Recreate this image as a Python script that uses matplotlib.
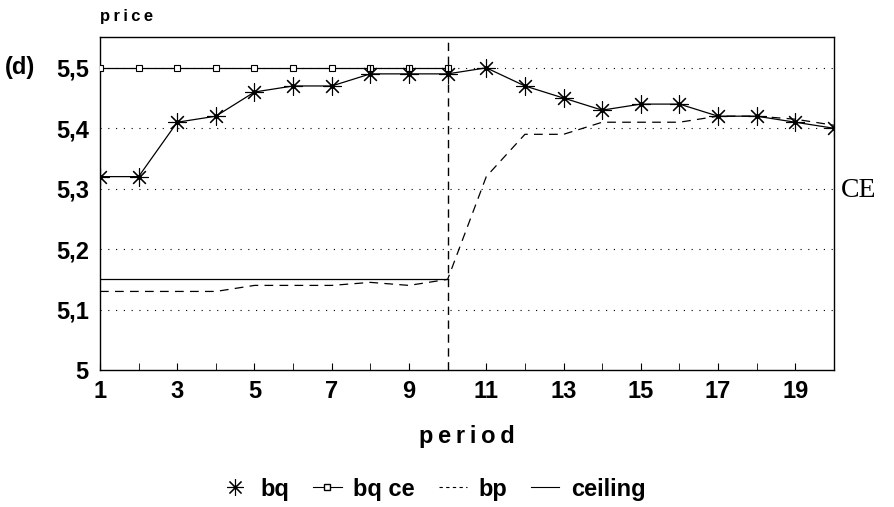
import matplotlib
matplotlib.use("Agg")
import matplotlib.pyplot as plt
from matplotlib.lines import Line2D
from matplotlib.ticker import FuncFormatter

periods = list(range(1, 21))
bq = [5.32, 5.32, 5.41, 5.42, 5.46, 5.47, 5.47, 5.49, 5.49, 5.49,
      5.50, 5.47, 5.45, 5.43, 5.44, 5.44, 5.42, 5.42, 5.41, 5.40]
bq_ce = [5.50] * 10
bp = [5.13, 5.13, 5.13, 5.13, 5.14, 5.14, 5.14, 5.145, 5.14, 5.15,
      5.32, 5.39, 5.39, 5.41, 5.41, 5.41, 5.42, 5.42, 5.415, 5.405]
ceiling = [5.15] * 10
x_ticks = [1, 3, 5, 7, 9, 11, 13, 15, 17, 19]
y_ticks = [5.0, 5.1, 5.2, 5.3, 5.4, 5.5]

plt.rcParams["font.family"] = ["Liberation Sans", "DejaVu Sans"]
plt.rcParams["font.weight"] = "bold"

fig = plt.figure(figsize=(8.95, 5.07), dpi=100)
ax = fig.add_axes([0.1117, 0.2702, 0.8201, 0.6568])

star = (8, 2, 0)
ax.plot(periods, bq, color="black", lw=0.9, marker=star, ms=13, mew=0.8, zorder=4)
ax.plot(periods, bq, ls="none", marker="o", ms=2.5, color="black", zorder=5)
ax.plot(periods[:10], bq_ce, color="black", lw=0.9, marker="s", ms=4,
        mfc="white", mec="black", mew=0.8, zorder=3)
ax.plot(periods, bp, color="black", lw=0.9, ls=(0, (7, 5)), zorder=3)
ax.plot(periods[:10], ceiling, color="black", lw=0.9, zorder=3)
ax.axvline(10, color="black", lw=1.0, ls=(0, (6, 4)), zorder=2)

for y in y_ticks[1:]:
    ax.axhline(y, color="black", lw=0.8, ls=(0, (1, 6)), zorder=1)

ax.set_xlim(1, 20)
ax.set_ylim(5.0, 5.551)
ax.set_xticks(x_ticks)
ax.set_xticks(periods, minor=True)
ax.set_yticks(y_ticks)
ax.yaxis.set_major_formatter(FuncFormatter(
    lambda v, p: "5" if abs(v - 5) < 1e-9 else f"{v:.1f}".replace(".", ",")))
ax.tick_params(axis="x", which="both", direction="in", length=5, labelsize=17, pad=7)
ax.tick_params(axis="y", length=0, labelsize=17, pad=8)
for s in ax.spines.values():
    s.set_linewidth(1.0)

ax.set_xlabel("p\u2009e\u2009r\u2009i\u2009o\u2009d", fontsize=17, fontweight="bold", labelpad=16)
for lbl in ax.get_xticklabels() + ax.get_yticklabels():
    lbl.set_fontweight("bold")

fig.text(0.112, 0.968, "p\u2009r\u2009i\u2009c\u2009e", fontsize=12, fontweight="bold",
         ha="left", va="center")
fig.text(0.005, 0.866, "(d)", fontsize=17, fontweight="bold", ha="left", va="center")
fig.text(0.940, 0.625, "CE", fontsize=20, family="Liberation Serif",
         fontweight="normal", ha="left", va="center")

handles = [
    Line2D([], [], color="black", lw=0, marker=star, ms=12, mew=0.8),
    Line2D([], [], color="black", lw=0.8, marker="s", ms=4, mfc="white"),
    Line2D([], [], color="black", lw=0.8, ls=(0, (3, 3))),
    Line2D([], [], color="black", lw=0.8),
]
fig.legend(handles, ["bq", "bq ce", "bp", "ceiling"], loc="center",
           bbox_to_anchor=(0.484, 0.035), ncol=4, frameon=False,
           handlelength=1.2, handletextpad=0.5, columnspacing=1.0,
           prop={"weight": "bold", "size": 17})

fig.savefig("out.png", dpi=100)
